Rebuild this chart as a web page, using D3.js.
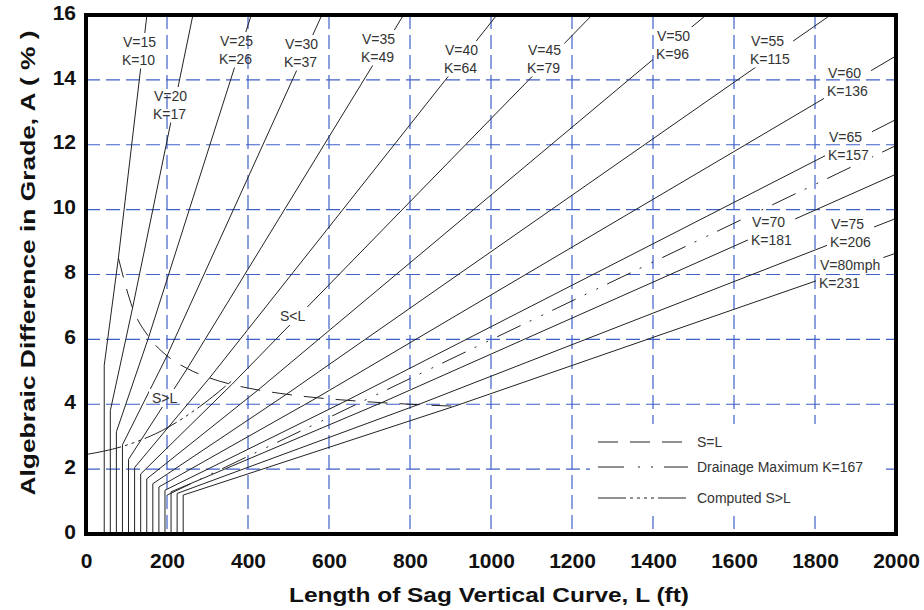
<!DOCTYPE html>
<html>
  <meta charset="utf-8" />
  <head>
    <script src="https://cdnjs.cloudflare.com/ajax/libs/d3/7.8.5/d3.min.js"></script>
    <style>
      body { margin: 0; background: #fff; }
    </style>
  </head>
  <body>
    <script>
    // design speeds (mph) and the K values printed on the chart
    const speeds = [15, 20, 25, 30, 35, 40, 45, 50, 55, 60, 65, 70, 75, 80];
    const kLabel = [10, 17, 26, 37, 49, 64, 79, 96, 115, 136, 157, 181, 206, 231];
    // K used for the drawn lines (unrounded)
    const kLine = [9.4, 16.5, 25.5, 36.4, 49.0, 63.4, 78.1, 95.7, 114.9, 135.7, 156.5, 180.3, 205.6, 231.0];
    // stopping sight distance S (ft), where S = L
    const sightDist = [80, 115, 155, 200, 250, 305, 360, 425, 495, 570, 645, 730, 820, 910];
    // minimum curve length (ft) and the grade where each line leaves it
    const minLength = [45, 60, 75, 90, 105, 120, 135, 150, 165, 180, 195, 210, 225, 240];
    const bendA = [5.2, 3.8, 3.15, 2.75, 2.3, 2.05, 1.85, 1.7, 1.55, 1.45, 1.35, 1.3, 1.25, 1.2];

    const drainageK = 167;
    const drainageStartA = 1.2;

    // computed S>L curve
    const computedL = [0, 90, 200, 280, 360];
    const computedA = [2.45, 2.7, 3.27, 3.92, 4.72];

    const xTicks = [0, 200, 400, 600, 800, 1000, 1200, 1400, 1600, 1800, 2000];
    const yTicks = [0, 2, 4, 6, 8, 10, 12, 14, 16];

    // label placement (left x, centre y of the V row)
    const labelPos = [
        [123, 42], [154, 96], [220, 41], [285, 44], [362, 39], [445, 50], [528, 50],
        [657, 36], [751, 41], [828, 73], [829, 137], [752, 222], [831, 224], [820, 265]
    ];

    const width = 924, height = 610;
    const margin = { left: 86, right: 896, top: 15, bottom: 534 };

    const svg = d3
        .select("body")
        .append("svg")
        .attr("width", width)
        .attr("height", height);

    const x = d3.scaleLinear().domain([0, 2000]).range([margin.left, margin.right]);
    const y = d3.scaleLinear().domain([0, 16]).range([margin.bottom, margin.top]);

    const gridColor = "#3f5fc8";

    // grid
    svg.append("g")
        .selectAll("line")
        .data(xTicks.slice(1, -1))
        .enter()
        .append("line")
        .attr("x1", d => x(d)).attr("x2", d => x(d))
        .attr("y1", y(16)).attr("y2", y(0))
        .attr("stroke", gridColor)
        .attr("stroke-width", 1.2)
        .attr("stroke-dasharray", "14,6");

    svg.append("g")
        .selectAll("line")
        .data(yTicks.slice(1, -1))
        .enter()
        .append("line")
        .attr("x1", x(0)).attr("x2", x(2000))
        .attr("y1", d => y(d)).attr("y2", d => y(d))
        .attr("stroke", gridColor)
        .attr("stroke-width", 1.2)
        .attr("stroke-dasharray", "14,6");

    // legend background hides the grid
    svg.append("rect")
        .attr("x", 590).attr("y", 424)
        .attr("width", 290).attr("height", 92)
        .attr("fill", "#fff");

    // labels first so the gaps can be measured
    const labelG = svg.append("g")
        .attr("font-family", "Arial, 'Liberation Sans', sans-serif")
        .attr("font-size", "14px")
        .attr("fill", "#333");

    const blocks = [];
    speeds.forEach((v, i) => {
        const [lx, ly] = labelPos[i];
        const g = labelG.append("g");
        g.append("text")
            .attr("x", lx).attr("y", ly)
            .attr("dominant-baseline", "central")
            .text(i === speeds.length - 1 ? `V=${v}mph` : `V=${v}`);
        g.append("text")
            .attr("x", lx - 1).attr("y", ly + 17.5)
            .attr("dominant-baseline", "central")
            .text(`K=${kLabel[i]}`);
        blocks.push(g);
    });

    [["S<L", 280, 316], ["S>L", 152, 398]].forEach(([t, lx, ly]) => {
        const g = labelG.append("g");
        g.append("text")
            .attr("x", lx).attr("y", ly)
            .attr("dominant-baseline", "central")
            .text(t);
        blocks.push(g);
    });

    // mask cutting lines under the labels
    const mask = svg.append("defs").append("mask").attr("id", "gaps")
        .attr("maskUnits", "userSpaceOnUse")
        .attr("x", 0).attr("y", 0).attr("width", width).attr("height", height);
    mask.append("rect").attr("width", width).attr("height", height).attr("fill", "#fff");
    blocks.forEach(g => {
        const b = g.node().getBBox();
        mask.append("rect")
            .attr("x", b.x - 3).attr("y", b.y - 1)
            .attr("width", b.width + 6).attr("height", b.height + 2)
            .attr("fill", "#000");
    });

    const lines = svg.append("g").attr("mask", "url(#gaps)").attr("fill", "none");
    const lineGen = d3.line().x(d => x(d[0])).y(d => y(d[1]));

    // design lines: minimum length, transition to S = L, then L = K A
    speeds.forEach((v, i) => {
        const k = kLine[i];
        const aEnd = Math.min(16, 2000 / k);
        const pts = [
            [minLength[i], 0],
            [minLength[i], bendA[i]],
            [sightDist[i], sightDist[i] / k],
            [k * aEnd, aEnd]
        ];
        lines.append("path")
            .attr("d", lineGen(pts))
            .attr("stroke", "#222")
            .attr("stroke-width", 1);
    });

    // S = L curve
    const sEqL = sightDist.map((s, i) => [s, s / kLine[i]]);
    lines.append("path")
        .attr("d", d3.line().x(d => x(d[0])).y(d => y(d[1])).curve(d3.curveMonotoneX)(sEqL))
        .attr("stroke", "#222")
        .attr("stroke-width", 1)
        .attr("stroke-dasharray", "20,12");

    // drainage maximum
    lines.append("path")
        .attr("d", lineGen([[drainageK * drainageStartA, drainageStartA], [2000, 2000 / drainageK]]))
        .attr("stroke", "#222")
        .attr("stroke-width", 1)
        .attr("stroke-dasharray", "26,10,2,11,2,10");

    // computed S>L
    lines.append("path")
        .attr("d", d3.line().x(d => x(d[0])).y(d => y(d[1])).curve(d3.curveMonotoneX)(
            computedL.map((l, i) => [l, computedA[i]])))
        .attr("stroke", "#222")
        .attr("stroke-width", 1)
        .attr("stroke-dasharray", "36,4,3,4,3,4,3,4");

    // legend
    const legend = [
        ["S=L", 442, "20,12"],
        ["Drainage Maximum K=167", 467, "26,14,2,11,2,11"],
        ["Computed S>L", 498, "28,4,3,4,3,4,3,4,3,4"]
    ];
    legend.forEach(([t, ly, dash]) => {
        svg.append("line")
            .attr("x1", 598).attr("x2", 688)
            .attr("y1", ly).attr("y2", ly)
            .attr("stroke", "#222")
            .attr("stroke-dasharray", dash);
        svg.append("text")
            .attr("x", 697).attr("y", ly)
            .attr("dominant-baseline", "central")
            .attr("font-family", "Arial, 'Liberation Sans', sans-serif")
            .attr("font-size", "14px")
            .attr("fill", "#333")
            .text(t);
    });

    // frame
    svg.append("rect")
        .attr("x", x(0)).attr("y", y(16))
        .attr("width", x(2000) - x(0)).attr("height", y(0) - y(16))
        .attr("fill", "none")
        .attr("stroke", "#000")
        .attr("stroke-width", 4);

    // axes
    const xAxis = svg.append("g")
        .attr("transform", `translate(0,${y(0)})`)
        .call(d3.axisBottom(x).tickValues(xTicks).tickFormat(d3.format("d")).tickSize(0).tickPadding(19));
    const yAxis = svg.append("g")
        .attr("transform", `translate(${x(0)},0)`)
        .call(d3.axisLeft(y).tickValues(yTicks).tickFormat(d3.format("d")).tickSize(0).tickPadding(10));
    [xAxis, yAxis].forEach(a => {
        a.select(".domain").remove();
        a.selectAll("text")
            .attr("font-family", "Arial, 'Liberation Sans', sans-serif")
            .attr("font-size", "21px")
            .attr("font-weight", "bold")
            .attr("fill", "#111");
    });
    yAxis.selectAll("text").attr("dy", "0.2em");

    // titles
    svg.append("text")
        .attr("x", 489).attr("y", 602)
        .attr("text-anchor", "middle")
        .attr("font-family", "Arial, 'Liberation Sans', sans-serif")
        .attr("font-size", "21px")
        .attr("font-weight", "bold")
        .attr("fill", "#111")
        .attr("textLength", 400)
        .attr("lengthAdjust", "spacingAndGlyphs")
        .text("Length of Sag Vertical Curve, L (ft)");

    svg.append("text")
        .attr("transform", "translate(35,263) rotate(-90)")
        .attr("text-anchor", "middle")
        .attr("font-family", "Arial, 'Liberation Sans', sans-serif")
        .attr("font-size", "21px")
        .attr("font-weight", "bold")
        .attr("fill", "#111")
        .attr("textLength", 465)
        .attr("lengthAdjust", "spacingAndGlyphs")
        .text("Algebraic Difference in Grade, A ( % )");
</script>
</body>
</html>
